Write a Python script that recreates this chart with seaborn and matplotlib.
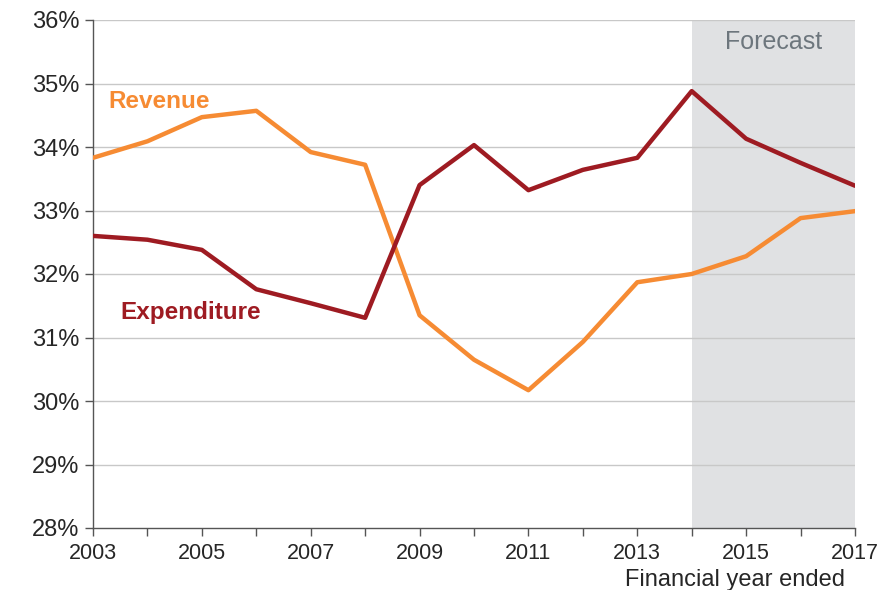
import numpy as np
import pandas as pd
import matplotlib
matplotlib.use('Agg')
import matplotlib.pyplot as plt
import seaborn as sns
from matplotlib.ticker import FuncFormatter, MultipleLocator, FixedLocator

years = list(range(2003, 2018))
revenue = [33.83, 34.09, 34.47, 34.57, 33.92, 33.72, 31.35, 30.65, 30.17,
           30.93, 31.87, 32.00, 32.28, 32.88, 32.99]
expenditure = [32.60, 32.54, 32.38, 31.76, 31.54, 31.31, 33.40, 34.03, 33.32,
               33.64, 33.83, 34.88, 34.13, 33.75, 33.39]
year_labels = list(range(2003, 2018, 2))
forecast_start = 2014

df = pd.DataFrame({'year': years * 2,
                   'value': revenue + expenditure,
                   'series': ['Revenue'] * len(years) + ['Expenditure'] * len(years)})

sns.set_style('white')
plt.rcParams['font.family'] = ['Liberation Sans', 'DejaVu Sans']

orange = '#F68B33'
red = '#9E1B22'

fig = plt.figure(figsize=(8.95, 5.90), dpi=100)
ax = fig.add_axes([93 / 895, 1 - 528 / 590, (855 - 93) / 895, (528 - 20) / 590])

ax.axvspan(forecast_start, 2017, color='#E0E1E3', lw=0, zorder=0)
for v in range(29, 37):
    ax.axhline(v, color='#C8C8C8', lw=1, zorder=1)

sns.lineplot(data=df, x='year', y='value', hue='series', ax=ax,
             palette={'Revenue': orange, 'Expenditure': red},
             linewidth=3.2, legend=False, zorder=3)

ax.set_xlim(2003, 2017)
ax.set_ylim(28, 36)
ax.xaxis.set_major_locator(FixedLocator(year_labels))
ax.xaxis.set_minor_locator(FixedLocator(years))
ax.yaxis.set_major_locator(MultipleLocator(1))
ax.yaxis.set_major_formatter(FuncFormatter(lambda v, p: f'{v:.0f}%'))
ax.tick_params(axis='y', which='major', direction='out', length=6, width=1,
               color='#555555', labelsize=17, pad=4, left=True)
ax.tick_params(axis='x', which='major', direction='out', length=6, width=1,
               color='#555555', labelsize=15.5, pad=5, bottom=True)
ax.tick_params(axis='x', which='minor', direction='out', length=6, width=1,
               color='#555555', bottom=True)

for s in ['top', 'right']:
    ax.spines[s].set_visible(False)
for s in ['left', 'bottom']:
    ax.spines[s].set_color('#555555')
    ax.spines[s].set_linewidth(1)
ax.set_xlabel('')
ax.set_ylabel('')

ax.text(2003.28, 34.72, 'Revenue', color=orange, fontsize=17.5, fontweight='bold',
        ha='left', va='center')
ax.text(2003.5, 31.4, 'Expenditure', color=red, fontsize=17.5, fontweight='bold',
        ha='left', va='center')
ax.text(2015.5, 35.65, 'Forecast', color='#6D767D', fontsize=18,
        ha='center', va='center')
fig.text(845 / 895, 1 - 580 / 590, 'Financial year ended', fontsize=17,
         ha='right', va='center')

fig.savefig('out.png', dpi=100)
